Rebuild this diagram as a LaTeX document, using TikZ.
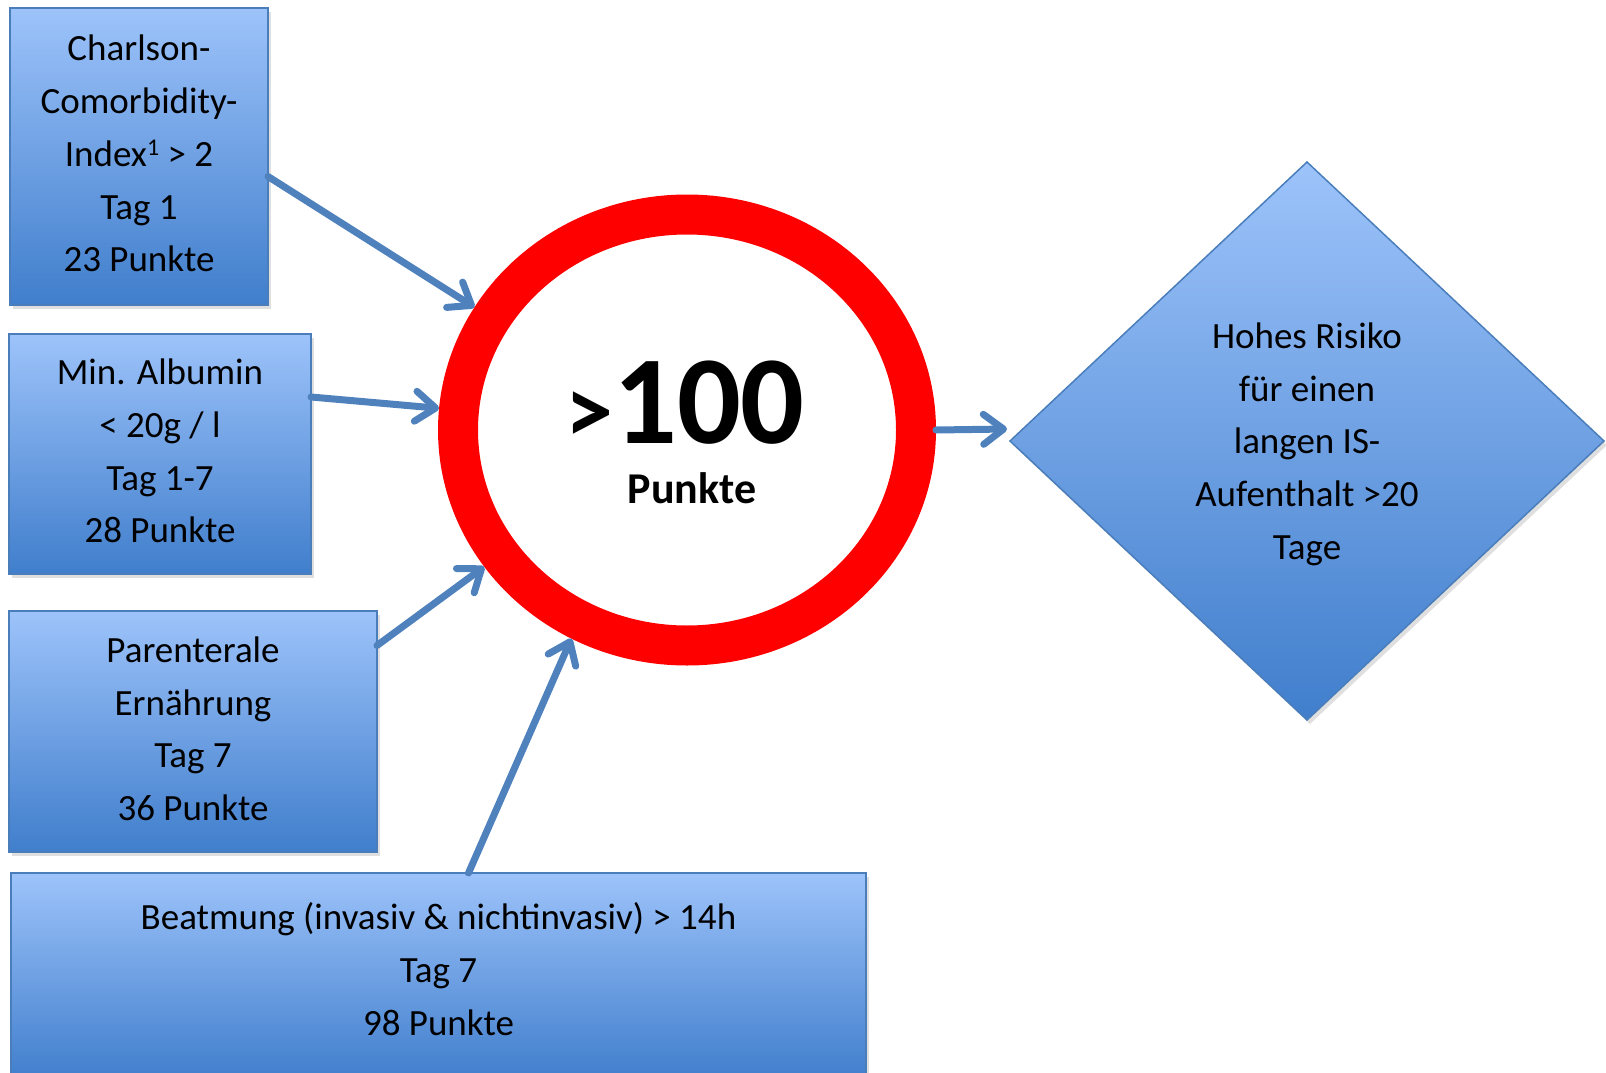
\documentclass[tikz,border=0pt]{standalone}
\usepackage{fontspec}
\setmainfont{Carlito}
\usetikzlibrary{arrows.meta,shapes.geometric,shadows}
\definecolor{boxtop}{RGB}{157,195,250}
\definecolor{boxbot}{RGB}{64,126,204}
\definecolor{boxline}{RGB}{74,126,187}
\definecolor{arrowc}{RGB}{79,129,189}
\begin{document}
\begin{tikzpicture}[x=1pt,y=-1pt,
  infobox/.style={draw=boxline, line width=1.5pt, top color=boxtop, bottom color=boxbot,
    align=center, inner sep=0pt, outer sep=0pt, font=\fontsize{37}{52.7}\selectfont,
    text depth=6pt,
    drop shadow={shadow xshift=3pt, shadow yshift=-4pt, opacity=0.25}},
  conn/.style={draw=arrowc, line width=7pt, line cap=round,
    -{Straight Barb[length=20pt,width=30pt,round]}}
]
\useasboundingbox (0,0) rectangle (1606,1073);

% boxes
\node[infobox, minimum width=258pt, minimum height=297pt] (b1) at (139,156.5)
  {Charlson-\\Comorbidity-\\Index\raisebox{11pt}{\fontsize{24}{24}\selectfont 1} > 2\\Tag 1\\23 Punkte};
\node[infobox, minimum width=302pt, minimum height=240pt] (b2) at (160,454)
  {Min. Albumin\\< 20g / l\\Tag 1-7\\28 Punkte};
\node[infobox, minimum width=368pt, minimum height=241pt] (b3) at (193,731.5)
  {Parenterale\\Ernährung\\Tag 7\\36 Punkte};
\node[infobox, text depth=15pt, minimum width=855pt, minimum height=207pt] (b4) at (438.5,976.5)
  {Beatmung (invasiv \& nichtinvasiv) > 14h\\Tag 7\\98 Punkte};

% ring
\node[ellipse, draw=red, fill=white, line width=40pt, minimum width=458pt,
  minimum height=431pt, inner sep=0pt] (ring) at (687,430) {};
\node[anchor=base, font=\bfseries, inner sep=0pt, text depth=0pt] (big) at (685,443)
  {\fontsize{96}{96}\selectfont>\fontsize{126}{126}\selectfont 100};
\node[anchor=base, font=\bfseries\fontsize{44}{44}\selectfont, inner sep=0pt, text height=30pt] (pk) at (692,503) {Punkte};

% diamond
\node[diamond, infobox, text depth=0pt, minimum width=594pt, minimum height=558pt] (dia) at (1307,441)
  {Hohes Risiko\\für einen\\langen IS-\\Aufenthalt >20\\Tage};

% connectors
\draw[conn] ([yshift=-20pt]b1.east) -- (ring.150);
\draw[conn] ([yshift=57pt]b2.east) -- (ring.175);
\draw[conn] ([yshift=86pt]b3.east) -- (ring.214);
\draw[conn] ([xshift=30pt]b4.north) -- (ring.241);
\draw[conn] (ring.east) -- ([shift={(-3pt,12pt)}]dia.west);
\end{tikzpicture}
\end{document}
